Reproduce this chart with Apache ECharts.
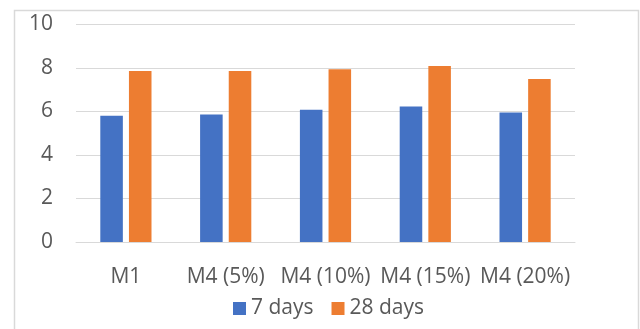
<!DOCTYPE html>
<html>
<head>
<meta charset="utf-8">
<script src="https://cdn.jsdelivr.net/npm/echarts@6/dist/echarts.min.js"></script>
<style>
  html, body { margin: 0; padding: 0; background: #ffffff; }
  #chart { width: 640px; height: 329px; }
</style>
</head>
<body>
<div id="chart"></div>
<script>
// Mixes and their strength readings at two curing ages
const categories = ['M1', 'M4 (5%)', 'M4 (10%)', 'M4 (15%)', 'M4 (20%)'];
const days7 = [5.80, 5.86, 6.08, 6.23, 5.95];
const days28 = [7.86, 7.86, 7.94, 8.09, 7.49];
const seriesNames = ['7 days', '28 days'];
const yTicks = { min: 0, max: 10, step: 2 };

const textColor = '#595959';
const lineColor = '#d9d9d9';
const fontFamily = '"Open Sans", "Liberation Sans", sans-serif';

const chart = echarts.init(document.getElementById('chart'), null, { renderer: 'canvas' });

chart.setOption({
  animation: false,
  backgroundColor: '#ffffff',
  textStyle: { fontFamily: fontFamily },
  graphic: [{
    type: 'rect',
    shape: { x: 14.5, y: 10.5, width: 624, height: 400 },
    style: { fill: 'none', stroke: lineColor, lineWidth: 1.5 },
    silent: true
  }],
  grid: { left: 76, right: 65, top: 24.5, bottom: 87, containLabel: false },
  legend: {
    data: seriesNames,
    left: 228,
    top: 293,
    itemWidth: 13,
    itemHeight: 13,
    itemGap: 18,
    icon: 'rect',
    textStyle: { color: textColor, fontSize: 21, fontFamily: fontFamily }
  },
  xAxis: {
    type: 'category',
    data: categories,
    axisLine: { show: true, lineStyle: { color: lineColor, width: 1 } },
    axisTick: { show: false },
    axisLabel: { color: textColor, fontSize: 21, margin: 25, interval: 0, fontFamily: fontFamily }
  },
  yAxis: {
    type: 'value',
    min: yTicks.min,
    max: yTicks.max,
    interval: yTicks.step,
    axisLine: { show: false },
    axisTick: { show: false },
    splitLine: { lineStyle: { color: lineColor, width: 1 } },
    axisLabel: { color: textColor, fontSize: 21, margin: 23, fontFamily: fontFamily }
  },
  series: [
    {
      name: seriesNames[0],
      type: 'bar',
      data: days7,
      barWidth: '22.6%',
      barGap: '27%',
      itemStyle: { color: '#4472c4' }
    },
    {
      name: seriesNames[1],
      type: 'bar',
      data: days28,
      barWidth: '22.6%',
      itemStyle: { color: '#ed7d31' }
    }
  ]
});
</script>
</body>
</html>
